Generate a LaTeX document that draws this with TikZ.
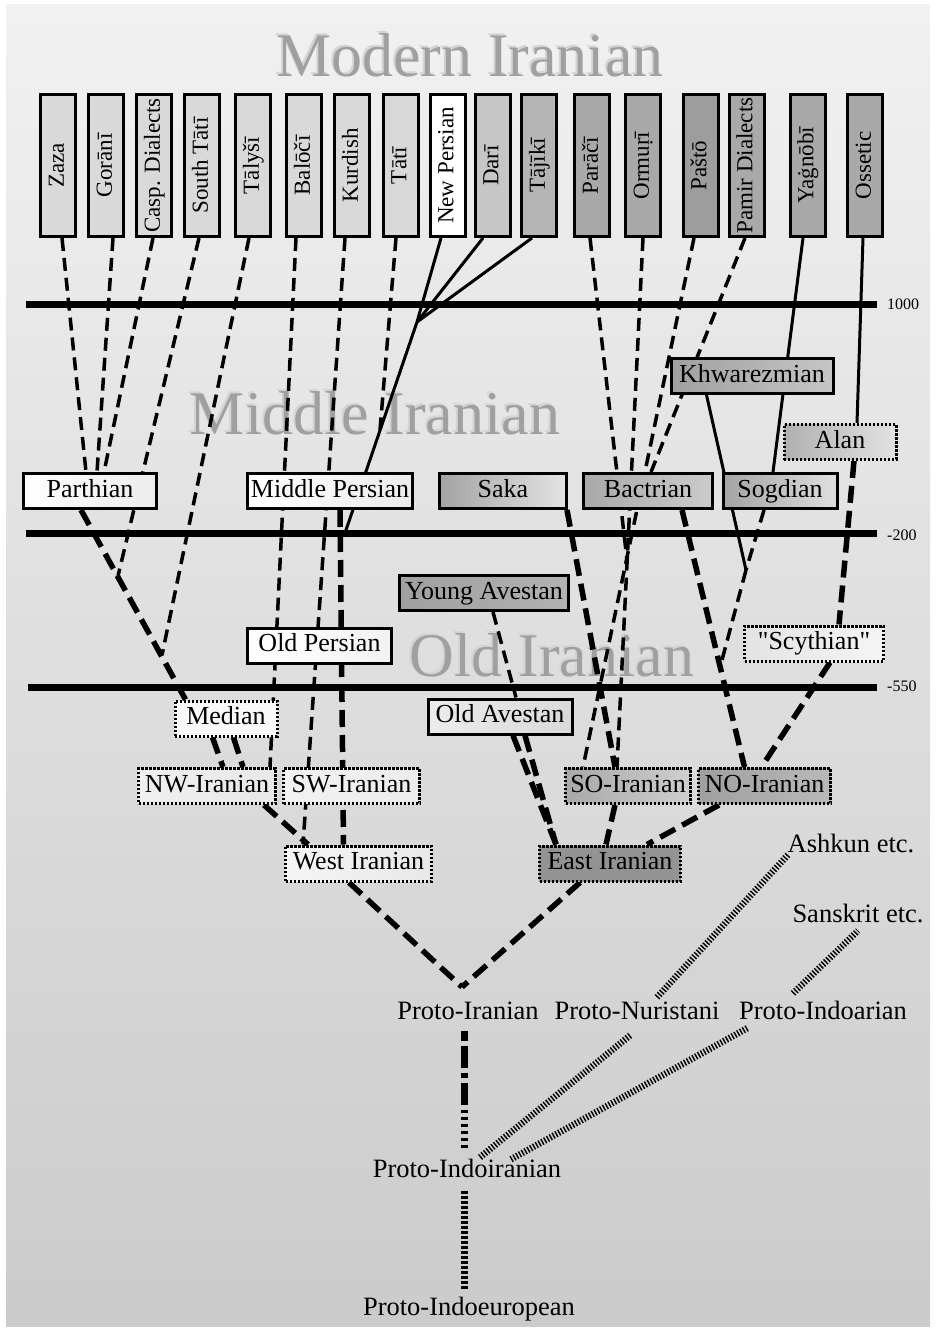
\documentclass[tikz,border=0pt]{standalone}
\usepackage{fontspec}
\setmainfont{Liberation Serif}[Ligatures=TeXOff]
\usetikzlibrary{calc}
\pgfdeclarelayer{canvas}
\pgfdeclarelayer{back}
\pgfsetlayers{canvas,back,main}

\definecolor{bgtop}{HTML}{F1F1F1}
\definecolor{bgbottom}{HTML}{CBCBCB}
\definecolor{mlight}{HTML}{D9D9D9}
\definecolor{mdari}{HTML}{C6C6C6}
\definecolor{mtajik}{HTML}{B5B5B5}
\definecolor{mmid}{HTML}{A9A9A9}
\definecolor{mdark}{HTML}{9D9D9D}
\definecolor{titlegray}{HTML}{A0A0A0}
\definecolor{titlehalo}{HTML}{D4D4D4}

\begin{document}
\begin{tikzpicture}[x=1pt,y=-1pt,
  lang/.style={draw=black, line width=3pt, minimum height=35pt, inner sep=0pt,
    text height=17.5pt, text depth=5.5pt, font=\fontsize{26}{28}\selectfont},
  dotframe/.style={lang, dash pattern=on 2.2pt off 1.8pt},
  modern/.style={draw=black, line width=3pt, minimum width=142pt, minimum height=35pt,
    inner sep=0pt, rotate=90, text height=16pt, text depth=4.5pt,
    font=\fontsize{23}{25}\selectfont},
  era/.style={line width=7pt},
  eralabel/.style={font=\fontsize{16}{16}\selectfont, anchor=west, inner sep=0pt},
  period/.style={font=\fontsize{62}{62}\selectfont, inner sep=0pt},
  link/.style={line width=3.5pt, dash pattern=on 13pt off 7pt},
  heavylink/.style={line width=5.5pt, dash pattern=on 17pt off 8pt},
  solidlink/.style={line width=3pt},
  hatch/.style={line width=6.5pt, dash pattern=on 1.4pt off 1.8pt},
  proto/.style={font=\fontsize{26.5}{28}\selectfont, inner sep=0pt, text height=17.5pt, text depth=5.5pt},
]
\useasboundingbox (0,0) rectangle (936,1330);

% ---------- paper ----------
\begin{pgfonlayer}{canvas}
  \fill[white] (0,0) rectangle (936,1330);
  \shade[top color=bgtop, bottom color=bgbottom] (6,5) rectangle (930,1326);
\end{pgfonlayer}

% ---------- period headings ----------
\begin{pgfonlayer}{back}
  \node[period, text=titlehalo] (modernhalo) at (468,53) {Modern Iranian};
  \node[period, text=titlegray] (modernhead) at (470,55) {Modern Iranian};
  \node[period, text=titlehalo] (middlehalo) at (373,411) {Middle Iranian};
  \node[period, text=titlegray] (middlehead) at (375,413) {Middle Iranian};
  \node[period, text=titlehalo] (oldhalo) at (550,653) {Old Iranian};
  \node[period, text=titlegray] (oldhead) at (552,655) {Old Iranian};
\end{pgfonlayer}

% ---------- time lines ----------
\draw[era] (26,304) -- (877,304);
\draw[era] (26,533) -- (877,533);
\draw[era] (28,687) -- (877,687);
\node[eralabel] (d1000) at (887,304) {1000};
\node[eralabel] (d200) at (887,535) {-200};
\node[eralabel] (d550) at (887,686) {-550};

% ---------- modern languages ----------
\node[modern, fill=mlight] (zaza) at (58,165.5) {Zaza};
\node[modern, fill=mlight] (gorani) at (106,165.5) {Gorānī};
\node[modern, fill=mlight] (casp) at (154,165.5) {Casp. Dialects};
\node[modern, fill=mlight] (stati) at (202,165.5) {South Tātī};
\node[modern, fill=mlight] (talysi) at (253,165.5) {Tālyšī};
\node[modern, fill=mlight] (balochi) at (304,165.5) {Balōčī};
\node[modern, fill=mlight] (kurdish) at (352,165.5) {Kurdish};
\node[modern, fill=mlight] (tati) at (400.5,165.5) {Tātī};
\node[modern, fill=white] (npers) at (447.5,165.5) {New Persian};
\node[modern, fill=mdari] (dari) at (492.5,165.5) {Darī};
\node[modern, fill=mtajik] (tajiki) at (539,165.5) {Tājīkī};
\node[modern, fill=mmid] (parachi) at (592,165.5) {Parāčī};
\node[modern, fill=mmid] (ormuri) at (643,165.5) {Ormuṛī};
\node[modern, fill=mdark] (pashto) at (700.5,165.5) {Paštō};
\node[modern, fill=mmid] (pamir) at (746.5,165.5) {Pamir Dialects};
\node[modern, fill=mmid] (yagnobi) at (807.5,165.5) {Yaġnōbī};
\node[modern, fill=mmid] (ossetic) at (865,165.5) {Ossetic};

% ---------- middle languages ----------
\node[lang, minimum width=133, left color=white, right color=gray!15] (parthian) at (90,491) {Parthian};
\node[lang, minimum width=165, left color=white, right color=white!92!black] (mpers) at (330,491) {Middle Persian};
\node[lang, minimum width=127, left color=gray!72, right color=gray!22] (saka) at (503,491) {Saka};
\node[lang, minimum width=129, left color=gray!68, right color=gray!40] (bactr) at (648,491) {Bactrian};
\node[lang, minimum width=114, left color=gray!72, right color=gray!25] (sogd) at (780,491) {Sogdian};
\node[lang, minimum width=162, left color=gray!75, right color=gray!45] (khw) at (752,376) {Khwarezmian};
\node[dotframe, minimum width=112, left color=gray!62, right color=gray!22] (alan) at (840,442) {Alan};

% ---------- old languages ----------
\node[lang, minimum width=169, left color=gray!75, right color=gray!60] (yav) at (484,593) {Young Avestan};
\node[lang, minimum width=144, left color=white, right color=gray!10] (opers) at (319.5,645.5) {Old Persian};
\node[dotframe, minimum width=139, left color=gray!22, middle color=gray!72, right color=gray!8] (scyth) at (814,643.5) {"Scythian"};
\node[dotframe, minimum width=102, left color=gray!5, middle color=gray!30, right color=gray!5] (median) at (226,718.5) {Median};
\node[lang, minimum width=144, left color=gray!15, middle color=gray!60, right color=gray!30] (oav) at (500,716.5) {Old Avestan};

% ---------- branches ----------
\node[dotframe, minimum width=137, left color=gray!12, right color=gray!18] (nwir) at (207,786) {NW-Iranian};
\node[dotframe, minimum width=136, left color=gray!10, right color=gray!15] (swir) at (351.5,786) {SW-Iranian};
\node[dotframe, minimum width=125, left color=gray!68, right color=gray!38] (soir) at (628,786) {SO-Iranian};
\node[dotframe, minimum width=132, left color=gray!75, right color=gray!55] (noir) at (764.5,786) {NO-Iranian};
\node[dotframe, minimum width=146, left color=gray!8, right color=gray!18] (wir) at (358.5,863.5) {West Iranian};
\node[dotframe, minimum width=141, left color=gray!85, middle color=gray!35, right color=gray!85] (eir) at (610,863.5) {East Iranian};

% ---------- proto-languages ----------
\node[proto] (ashkun) at (851,846) {Ashkun etc.};
\node[proto] (sanskrit) at (858,916) {Sanskrit etc.};
\node[proto] (pir) at (468,1013) {Proto-Iranian};
\node[proto] (pnur) at (637,1013) {Proto-Nuristani};
\node[proto] (pind) at (823,1013) {Proto-Indoarian};
\node[proto] (pii) at (467,1171) {Proto-Indoiranian};
\node[proto] (pie) at (469,1309) {Proto-Indoeuropean};

% junctions where branches merge
\coordinate (persjoin) at (417,322);
\coordinate (tatijoin) at (380,430);
\coordinate (mpfoot) at (345,533);
\coordinate (statijoin) at (118,576);
\coordinate (talysjoin) at (162,655);
\coordinate (parajoin) at (627,560);
\coordinate (khsog) at (746,570);
\coordinate (khsogend) at (722,660);
\coordinate (piv) at (462,987);

% ---------- connectors ----------
\begin{pgfonlayer}{back}
  % north-western group
  \draw[link] ($(zaza.west)+(4,0)$) -- ($(parthian.north)+(-4,0)$);
  \draw[link] ($(gorani.west)+(7,0)$) -- ($(parthian.north)+(7,0)$);
  \draw[link] ($(casp.west)+(-1,0)$) -- ($(parthian.north)+(14,0)$);
  \draw[heavylink] ($(parthian.south)+(-9,0)$) -- ($(median.north west)+(12,0)$);
  \draw[link] ($(stati.west)+(-3,0)$) -- (statijoin);
  \draw[link] ($(talysi.west)+(-4,0)$) -- (talysjoin);
  \draw[link] ($(balochi.west)+(-8,0)$) -- ($(nwir.north east)+(-7,0)$);
  \draw[link] ($(kurdish.west)+(-7,0)$) -- ($(wir.north west)+(19,0)$);
  \draw[heavylink] ($(median.south)+(-13.5,0)$) -- ($(nwir.north)+(16,0)$);
  \draw[heavylink] ($(median.south)+(7.5,0)$) -- ($(nwir.north)+(36,0)$);
  \draw[heavylink] ($(nwir.south east)+(-13,0)$) -- ($(wir.north west)+(24,0)$);
  % Persian group
  \draw[solidlink] ($(npers.west)+(-6.5,0)$) -- (persjoin);
  \draw[solidlink] ($(dari.west)+(-9.5,0)$) -- (persjoin);
  \draw[solidlink] ($(tajiki.west)+(-7,0)$) -- (persjoin);
  \draw[solidlink] (persjoin) -- (mpfoot);
  \draw[link] ($(tati.west)+(-4.5,0)$) -- (tatijoin);
  \draw[heavylink] ($(mpers.south)+(10,0)$) -- ($(wir.north)+(-15,0)$);
  % eastern group
  \draw[link] (ormuri.west) -- ($(soir.north)+(-11,0)$);
  \draw[link] ($(parachi.west)+(-2,0)$) -- (parajoin);
  \draw[link] ($(pashto.west)+(-6.5,0)$) -- ($(soir.north west)+(19,0)$);
  \draw[link] ($(pamir.west)+(-1.5,0)$) -- ($(bactr.north)+(3,0)$);
  \draw[heavylink] ($(saka.south east)+(-1,0)$) -- ($(soir.north)+(-13,0)$);
  \draw[solidlink] ($(yagnobi.west)+(-4.5,0)$) -- ($(sogd.north)+(-7,0)$);
  \draw[solidlink] ($(ossetic.west)+(-2,0)$) -- ($(alan.north)+(17,0)$);
  \draw[solidlink] ($(khw.south west)+(37,0)$) -- (khsog);
  \draw[link] ($(sogd.south)+(-16,0)$) -- (khsog);
  \draw[link] (khsog) -- (khsogend);
  \draw[heavylink] ($(bactr.south)+(34,0)$) -- ($(noir.north)+(-20,0)$);
  \draw[heavylink] ($(alan.south)+(14,0)$) -- ($(scyth.north)+(25,0)$);
  \draw[heavylink] ($(scyth.south)+(16,0)$) -- ($(noir.north)+(-3,0)$);
  \draw[link] ($(yav.south)+(9,0)$) -- ($(oav.north)+(16,0)$);
  \draw[heavylink] ($(oav.south)+(13,0)$) -- ($(eir.north west)+(18,0)$);
  \draw[heavylink] ($(oav.south)+(25,0)$) -- ($(eir.north west)+(18,0)$);
  \draw[heavylink] ($(soir.south)+(-13,0)$) -- ($(eir.north)+(-4,0)$);
  \draw[heavylink] ($(noir.south)+(-45.5,0)$) -- ($(eir.north)+(37,0)$);
  % Proto-Iranian
  \draw[heavylink] ($(wir.south)+(-9.5,0)$) -- (piv);
  \draw[heavylink] ($(eir.south)+(-30,0)$) -- (piv);
  % Indo-Iranian stem
  \draw[line width=7pt, dash pattern=on 10pt off 5pt on 22pt off 5pt on 5pt off 5pt on 22pt off 5pt on 3pt off 4pt on 3pt off 4pt on 3pt off 4pt on 3pt off 4pt on 3pt off 4pt on 3pt off 40pt]
    ($(pir.south)+(-4,6)$) -- ($(pii.north)+(-3,-6)$);
  \draw[line width=7pt, dash pattern=on 3pt off 2pt] ($(pii.south)+(-3,8)$) -- ($(pie.north)+(-5,-8)$);
  \draw[hatch] ($(pii.north)+(13,-2)$) -- ($(pnur.south)+(-6,10)$);
  \draw[hatch] ($(pii.north)+(44,0)$) -- ($(pind.south)+(-75,3)$);
  \draw[hatch] ($(pnur.north)+(20,-4)$) -- ($(ashkun.south)+(-62,-4)$);
  \draw[hatch] ($(pind.north)+(-30,-8)$) -- ($(sanskrit.south)+(0,3)$);
\end{pgfonlayer}
\end{tikzpicture}
\end{document}
